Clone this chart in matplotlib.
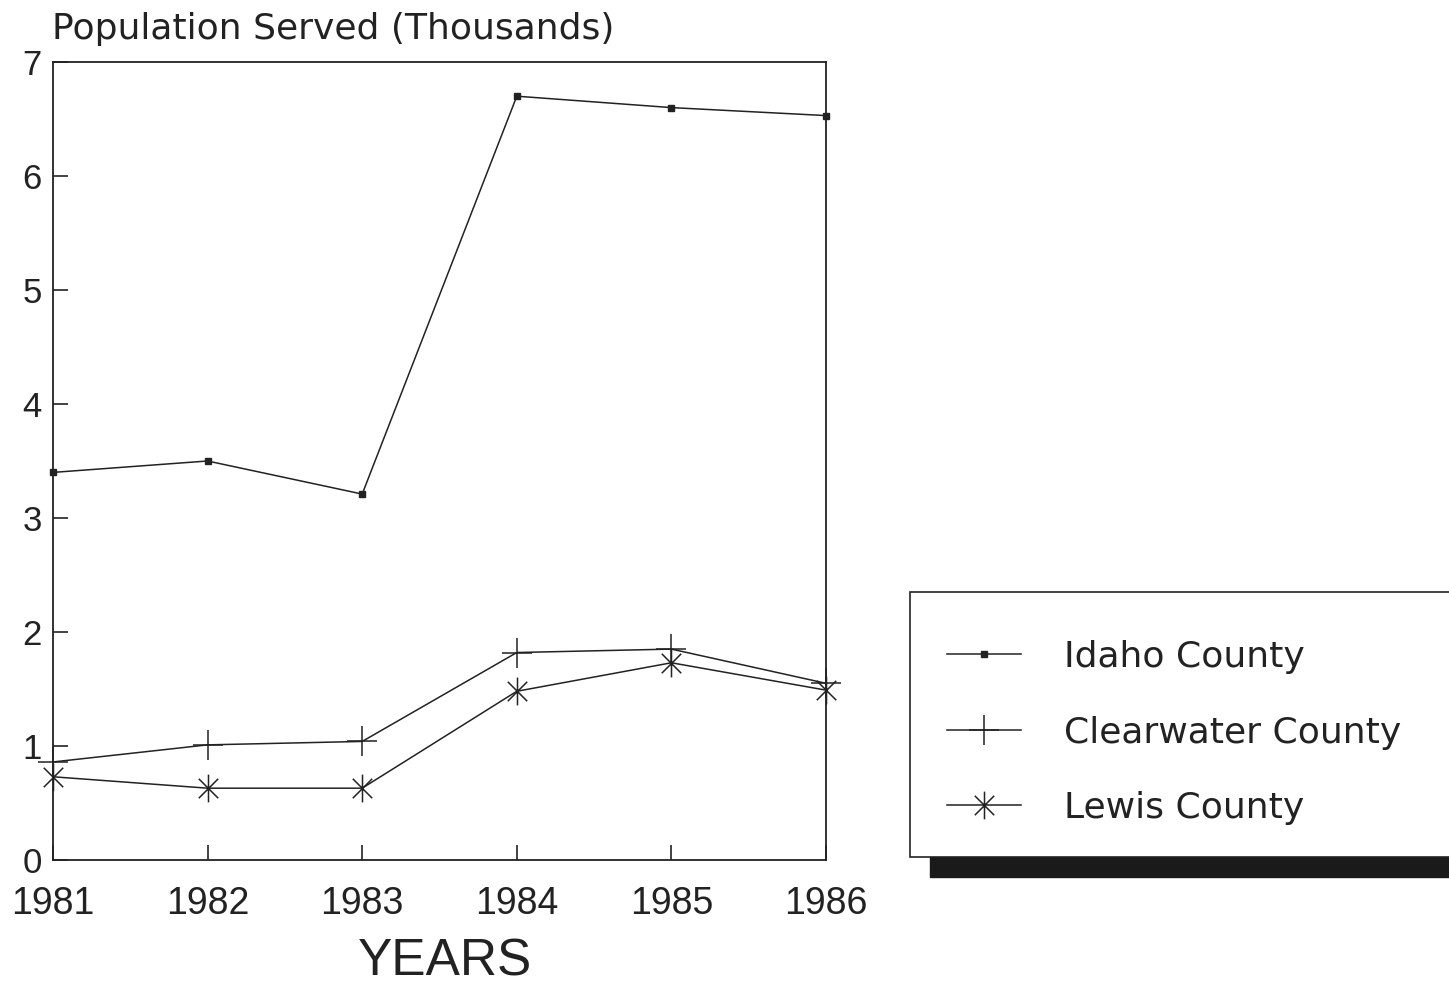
import numpy as np
import matplotlib.pyplot as plt
from matplotlib.path import Path
from matplotlib.patches import Rectangle

# values (thousands of people served)
years = [1981, 1982, 1983, 1984, 1985, 1986]
idaho = [3.40, 3.50, 3.21, 6.70, 6.60, 6.53]
clearwater = [0.86, 1.01, 1.04, 1.82, 1.85, 1.55]
lewis = [0.73, 0.63, 0.63, 1.48, 1.73, 1.49]
labels = ['Idaho County', 'Clearwater County', 'Lewis County']

plt.rcParams['font.family'] = ['Liberation Sans', 'DejaVu Sans']
ink = '#222222'

# asterisk: vertical stroke plus an X
d = 0.7
star = Path([(0, -1), (0, 1), (-d, -d), (d, d), (-d, d), (d, -d)],
            [Path.MOVETO, Path.LINETO, Path.MOVETO, Path.LINETO, Path.MOVETO, Path.LINETO])

fig = plt.figure(figsize=(14.49, 9.85), dpi=100)
ax = fig.add_axes([53/1449, 1 - 860/985, 773/1449, 798/985])

lw = 1.1
l1, = ax.plot(years, idaho, color=ink, lw=lw, marker='s', ms=4.5, clip_on=False)
l2, = ax.plot(years, clearwater, color=ink, lw=lw, marker='+', ms=21, mew=lw, clip_on=False)
l3, = ax.plot(years, lewis, color=ink, lw=lw, marker=star, ms=20, mew=lw, mfc='none', clip_on=False)

ax.set_xlim(1981, 1986)
ax.set_ylim(0, 7)
ax.set_xticks(years)
ax.set_yticks(range(8))
ax.tick_params(direction='in', length=11, width=1.2, color=ink, colors=ink)
ax.tick_params(axis='x', labelsize=27, pad=19)
ax.tick_params(axis='y', labelsize=25, pad=8)
for s in ax.spines.values():
    s.set_linewidth(1.3)
    s.set_color(ink)

fig.text(52/1449, 1 - 39/985, 'Population Served (Thousands)', fontsize=26,
         family='DejaVu Sans', color=ink, va='baseline', ha='left')
fig.text(445/1449, 1 - 975/985, 'YEARS', fontsize=37, color=ink,
         va='baseline', ha='center')

# legend box with a drop shadow, running off the right edge
fig.patches.append(Rectangle((930/1449, 1 - 877/985), 600/1449, 20/985,
                             transform=fig.transFigure, color='#1a1a1a', zorder=1))
fig.patches.append(Rectangle((910/1449, 1 - 857/985), 600/1449, 265/985,
                             transform=fig.transFigure, facecolor='white',
                             edgecolor=ink, lw=1.2, zorder=2))
leg = fig.legend([l1, l2, l3], labels, loc='upper left',
                 bbox_to_anchor=(929/1449, 1 - 622/985), frameon=False,
                 prop={'family': 'DejaVu Sans', 'size': 26},
                 handlelength=2.05, handletextpad=1.2,
                 labelspacing=1.15, borderpad=0, markerscale=1)
leg.set_zorder(3)
for t in leg.get_texts():
    t.set_color(ink)

fig.savefig('out.png', dpi=100)
